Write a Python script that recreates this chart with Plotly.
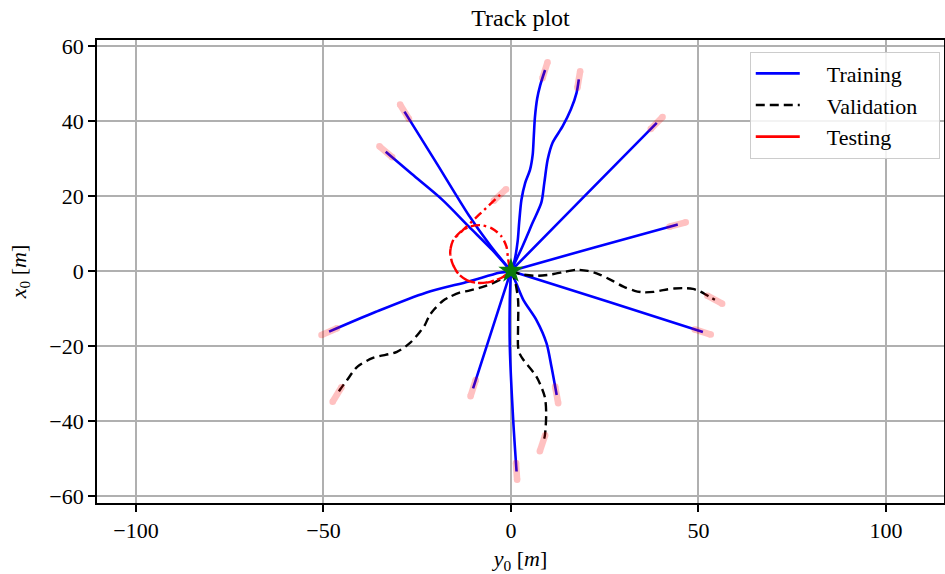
import plotly.graph_objects as go

# ---------------- data ----------------
# Training tracks (blue, solid)
train_a_x = [0, 1.0, 1.8, 2.2, 2.8, 3.8, 5.1, 5.8, 6.1, 6.4, 7.0, 7.8, 9.1]
train_a_y = [0, 3.0, 8.0, 13.0, 19.0, 23.5, 27.0, 31.0, 36.0, 41.0, 46.0, 49.5, 53.6]
train_b_x = [0, 3.1, 5.8, 8.1, 8.9, 9.8, 11.1, 13.8, 16.0, 17.5, 18.1]
train_b_y = [0, 6.6, 12.9, 18.2, 23.5, 29.7, 34.2, 38.6, 43.1, 47.5, 51.1]
train_c_x = [0, -5.5, -11.2, -19.8, -28.4]
train_c_y = [0, 6.8, 14.8, 28.7, 42.5]
train_d_x = [0, -5.0, -11.2, -18.2, -26.5, -33.4]
train_d_y = [0, 5.6, 11.8, 18.9, 25.9, 31.8]
train_e_x = [0, -3.1, -11.2, -22.7, -36.0, -48.5]
train_e_y = [0, -0.5, -2.8, -5.8, -10.9, -16.2]
train_f_x = [0, 19.5, 38.9]
train_f_y = [0, 19.8, 39.5]
train_g_x = [0, 22.0, 44.5]
train_g_y = [0, 6.2, 12.4]
train_h_x = [0, 26.0, 51.2]
train_h_y = [0, -8.2, -16.3]
train_i_x = [0, -5.0, -10.1]
train_i_y = [0, -15.5, -31.3]
train_j_x = [0, -0.3, -0.3, 0.6, 1.5]
train_j_y = [0, -7.7, -20.2, -39.7, -53.5]
train_k_x = [0, 1.5, 3.3, 6.8, 9.5, 10.8, 12.2]
train_k_y = [0, -3.5, -7.7, -13.1, -19.3, -25.5, -33.1]

# Validation tracks (black, dashed)
val_a_x = [0, 2.4, 6.8, 11.0, 14.5, 17.5, 20.5, 23.5, 27.0, 30.0, 33.0, 35.3, 38.0,
           40.6, 43.5, 46.0, 48.5, 50.5, 53.1, 54.4]
val_a_y = [0, -0.8, -1.3, -0.9, -0.2, 0.3, 0.0, -0.9, -2.6, -4.2, -5.3, -5.7, -5.6,
           -5.1, -4.7, -4.6, -4.8, -5.5, -7.0, -7.7]
val_b_x = [0, -2.7, -6.7, -10.9, -13.7, -16.5, -18.2, -20.5, -21.8, -23.0, -24.4,
           -26.9, -30.4, -36.8, -41.0, -43.7, -45.6, -46.4]
val_b_y = [0, -2.2, -4.0, -5.2, -5.8, -7.0, -8.0, -10.3, -12.0, -14.5, -16.4,
           -19.2, -21.6, -23.2, -25.6, -29.1, -31.7, -33.0]
val_c_x = [0, 1.0, 1.9, 1.9, 1.9, 2.3, 3.3, 6.8, 9.0, 9.4, 9.0, 8.4]
val_c_y = [0, -2.4, -7.7, -14.9, -20.2, -22.0, -23.7, -28.2, -33.5, -37.9, -44.2, -46.0]

# Testing track (red, dash-dot): loop and a half, then straight out
test_x = [0, -2.5, -5.5, -8.5, -11.5, -14.0, -15.6, -16.2, -15.5, -13.6, -11.0, -8.0,
          -5.0, -2.6, -1.2, -0.8, -0.4, 0, -2.5, -5.5, -8.5, -11.5, -14.0, -15.6,
          -16.2, -15.5, -13.6, -8.5, -2.9]
test_y = [0, -1.8, -2.9, -3.2, -2.6, -0.8, 2.0, 5.0, 8.0, 10.3, 11.8, 12.2,
          11.3, 9.3, 6.5, 3.5, 1.2, 0, -1.8, -2.9, -3.2, -2.6, -0.8, 2.0,
          5.0, 8.0, 10.1, 15.0, 20.3]

train_tracks = [(train_a_x, train_a_y), (train_b_x, train_b_y), (train_c_x, train_c_y),
                (train_d_x, train_d_y), (train_e_x, train_e_y), (train_f_x, train_f_y),
                (train_g_x, train_g_y), (train_h_x, train_h_y), (train_i_x, train_i_y),
                (train_j_x, train_j_y), (train_k_x, train_k_y)]
val_tracks = [(val_a_x, val_a_y), (val_b_x, val_b_y), (val_c_x, val_c_y)]
test_tracks = [(test_x, test_y)]

legend_names = ["Training", "Validation", "Testing"]
x_ticks = [-100, -50, 0, 50, 100]
y_ticks = [-60, -40, -20, 0, 20, 40, 60]

# ---------------- figure ----------------
FONT = "Liberation Serif"
fig = go.Figure()

for xs, ys in train_tracks:
    fig.add_trace(go.Scatter(x=xs, y=ys, mode="lines", showlegend=False,
                             line=dict(color="#0000ff", width=2.6, shape="spline", smoothing=0.8),
                             hoverinfo="skip"))
for xs, ys in val_tracks:
    fig.add_trace(go.Scatter(x=xs, y=ys, mode="lines", showlegend=False,
                             line=dict(color="black", width=2.4, dash="9px,5px",
                                       shape="spline", smoothing=0.8),
                             hoverinfo="skip"))
for xs, ys in test_tracks:
    fig.add_trace(go.Scatter(x=xs, y=ys, mode="lines", showlegend=False,
                             line=dict(color="#ff0000", width=2.4, dash="9px,4px,2.5px,4px",
                                       shape="spline", smoothing=0.8),
                             hoverinfo="skip"))

# end-of-track highlight (derived from last two points of each track)
px, py = [], []
for xs, ys in train_tracks + val_tracks + test_tracks:
    dx, dy = xs[-1] - xs[-2], ys[-1] - ys[-2]
    n = (dx * dx + dy * dy) ** 0.5
    ux, uy = dx / n, dy / n
    px += [xs[-1] - 2.3 * ux, xs[-1] + 2.2 * ux, None]
    py += [ys[-1] - 2.3 * uy, ys[-1] + 2.2 * uy, None]
fig.add_trace(go.Scatter(x=px, y=py, mode="lines+markers", showlegend=False,
                         line=dict(color="#ff0000", width=6.5),
                         marker=dict(color="#ff0000", size=6.5, line=dict(width=0)),
                         opacity=0.24, connectgaps=False, hoverinfo="skip"))

# start marker
fig.add_trace(go.Scatter(x=[train_a_x[0]], y=[train_a_y[0]], mode="markers", showlegend=False,
                         marker=dict(symbol="star", size=19, color="#0a7a0a",
                                     line=dict(width=0)), hoverinfo="skip"))

# legend entries
legend_styles = [dict(color="#0000ff", width=2.6),
                 dict(color="black", width=2.4, dash="9px,5px"),
                 dict(color="#ff0000", width=2.6)]
for name, style in zip(legend_names, legend_styles):
    fig.add_trace(go.Scatter(x=[None], y=[None], mode="lines",
                             name="\u00a0\u00a0\u00a0\u00a0" + name + "\u00a0\u00a0\u00a0",
                             line=style))

axis_common = dict(showgrid=True, gridcolor="#b0b0b0", gridwidth=1.7,
                   showline=True, linecolor="black", linewidth=1.7, mirror=True,
                   ticks="outside", ticklen=7, tickwidth=1.7, tickcolor="black",
                   zeroline=False, automargin=False,
                   tickfont=dict(family=FONT, size=22, color="black"))

fig.update_layout(
    width=945, height=574,
    margin=dict(l=97, r=1, t=40, b=71),
    paper_bgcolor="white", plot_bgcolor="white",
    title=dict(text="Track plot", x=0.5, xref="paper", xanchor="center",
               y=1 - 18 / 574, yref="container", yanchor="middle",
               font=dict(family=FONT, size=24, color="black")),
    xaxis=dict(range=[-110.4, 115.5], tickvals=x_ticks,
               ticktext=[("\u2212" if v < 0 else "") + str(abs(v)) for v in x_ticks],
               title=dict(text="<i>y</i><sub>0</sub> [<i>m</i>]", standoff=10,
                          font=dict(family=FONT, size=22, color="black")),
               **axis_common),
    yaxis=dict(range=[-61.9, 61.6], tickvals=y_ticks,
               ticktext=[("\u2212" if v < 0 else "") + str(abs(v)) for v in y_ticks],
               title=dict(text="<i>x</i><sub>0</sub> [<i>m</i>]", standoff=17,
                          font=dict(family=FONT, size=22, color="black")),
               **axis_common),
    legend=dict(x=0.995, y=0.975, xanchor="right", yanchor="top",
                bgcolor="rgba(255,255,255,0.85)", bordercolor="#cccccc", borderwidth=1,
                font=dict(family=FONT, size=22, color="black"),
                tracegroupgap=0, itemwidth=44),
    showlegend=True,
)

fig.write_html("out.html", config={"displayModeBar": False},
               post_script="document.body.style.margin='0';document.body.style.overflow='hidden';")
